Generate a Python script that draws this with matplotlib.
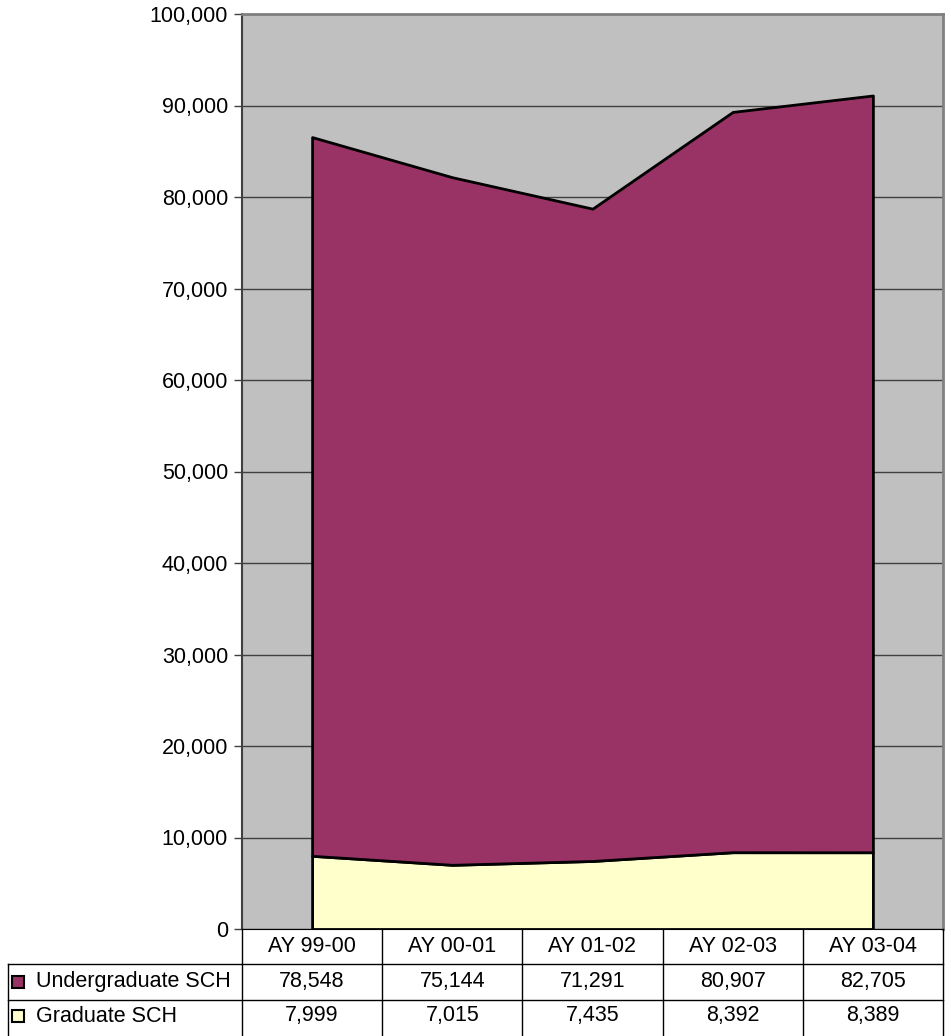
import matplotlib
matplotlib.use("Agg")
import matplotlib.pyplot as plt
from matplotlib.patches import Rectangle
from matplotlib.lines import Line2D

plt.rcParams['font.family'] = ['Liberation Sans', 'DejaVu Sans']

categories = ["AY 99-00", "AY 00-01", "AY 01-02", "AY 02-03", "AY 03-04"]
undergrad = [78548, 75144, 71291, 80907, 82705]
graduate = [7999, 7015, 7435, 8392, 8389]
series_names = ["Undergraduate SCH", "Graduate SCH"]
colors = ["#993366", "#FFFFCC"]

FS = 15.5
W, H = 951, 1036
fig = plt.figure(figsize=(W / 100, H / 100), dpi=100)

L, R, T, B = 242, 943, 14, 929
ax = fig.add_axes([L / W, 1 - B / H, (R - L) / W, (B - T) / H])
ax.set_facecolor("#C0C0C0")
x = list(range(len(categories)))
ax.stackplot(x, graduate, undergrad, colors=[colors[1], colors[0]],
             edgecolor="black", linewidth=2, zorder=3)
ax.set_xlim(-0.5, len(categories) - 0.5)
ax.set_ylim(0, 100000)
ax.set_yticks(range(0, 100001, 10000))
ax.set_yticklabels([f"{v:,}" for v in range(0, 100001, 10000)], fontsize=FS)
ax.yaxis.grid(True, color="#404040", linewidth=1)
ax.set_axisbelow(True)
ax.set_xticks([])
ax.tick_params(axis='y', length=6, width=1, color="#404040", pad=4)
for s in ["top", "right"]:
    ax.spines[s].set_color("#808080")
    ax.spines[s].set_linewidth(2)
ax.spines["left"].set_color("#404040")
ax.spines["bottom"].set_color("black")
ax.spines["left"].set_linewidth(1.5)

# Data table below the plot
def fx(px):
    return px / W

def fy(py):
    return 1 - py / H

row_lines = [B, 964, 1000, H]
col_w = (R - L) / len(categories)
col_x = [L + i * col_w for i in range(len(categories) + 1)]
tl = 8
lc = "black"

def hline(x0, x1, y):
    fig.add_artist(Line2D([fx(x0), fx(x1)], [fy(y), fy(y)], color=lc, lw=1))

def vline(x, y0, y1):
    fig.add_artist(Line2D([fx(x), fx(x)], [fy(y0), fy(y1)], color=lc, lw=1))

hline(tl, R, row_lines[1])
hline(tl, R, row_lines[2])
for cx in col_x:
    vline(cx, row_lines[0], H)
vline(tl, row_lines[1], H)

for i, c in enumerate(categories):
    cx = (col_x[i] + col_x[i + 1]) / 2
    fig.text(fx(cx), fy((row_lines[0] + row_lines[1]) / 2), c,
             ha="center", va="center", fontsize=FS)

rows = [undergrad, graduate]
for r, (name, vals, col) in enumerate(zip(series_names, rows, colors)):
    y0, y1 = row_lines[r + 1], row_lines[r + 2]
    yc = (y0 + y1) / 2
    if r == 1:
        yc = y0 + 16
    fig.add_artist(Rectangle((fx(12), fy(yc + 6)), 12 / W, 12 / H,
                             facecolor=col, edgecolor="black", lw=1.5,
                             transform=fig.transFigure))
    fig.text(fx(36), fy(yc), name, ha="left", va="center", fontsize=FS)
    for i, v in enumerate(vals):
        cx = (col_x[i] + col_x[i + 1]) / 2
        fig.text(fx(cx), fy(yc), f"{v:,}", ha="center", va="center", fontsize=FS)

fig.savefig("out.png", dpi=100)
